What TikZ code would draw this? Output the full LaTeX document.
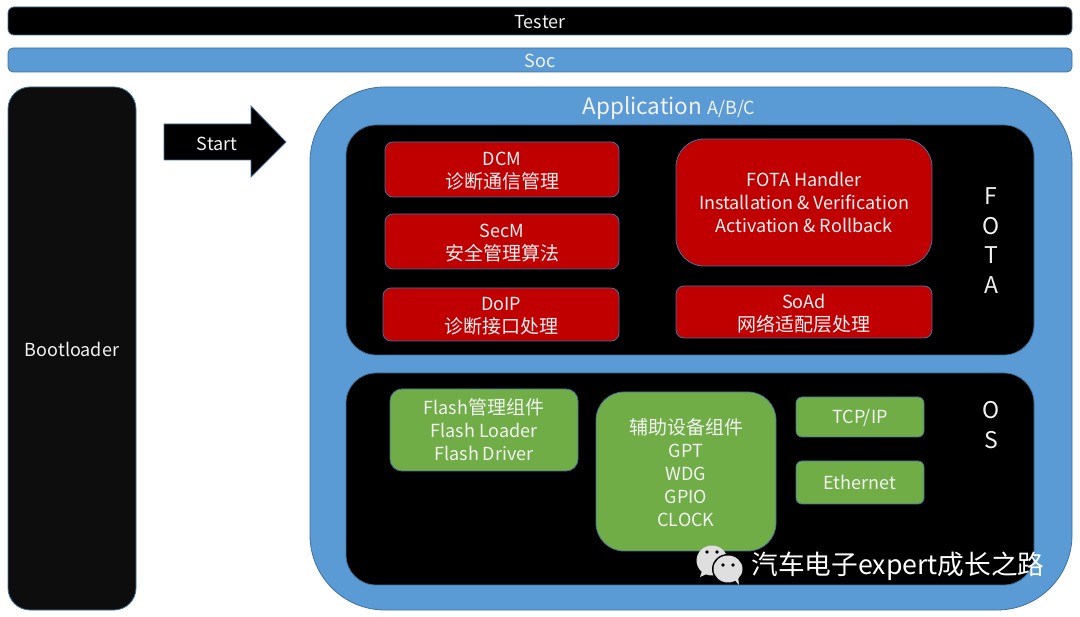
\documentclass[tikz,border=0pt]{standalone}
\usepackage{fontspec}
\setmainfont{Noto Sans CJK SC}
\usetikzlibrary{calc}
\definecolor{blu}{HTML}{5B9BD5}
\definecolor{edg}{HTML}{41719C}
\definecolor{redb}{HTML}{C00000}
\definecolor{grn}{HTML}{70AD47}
\definecolor{txt}{HTML}{F2F2F2}
\definecolor{nearblack}{HTML}{0D0D0D}
\newcommand{\zh}[1]{{\fontsize{19}{23}\selectfont #1}}
\tikzset{
  boxbase/.style={draw=edg,line width=0.8pt,inner sep=0pt},
  blk/.style={boxbase,fill=black},
  nearblk/.style={boxbase,fill=nearblack},
  bluebox/.style={boxbase,fill=blu},
  redbox/.style={boxbase,fill=redb},
  grnbox/.style={boxbase,fill=grn},
  lbl/.style={text=txt,inner sep=0pt,align=center,font=\fontsize{18}{23}\selectfont},
  side/.style={text=txt,inner sep=0pt,font=\fontsize{23}{23}\selectfont},
}
% name, x0, y0, x1, y1, radius, style, text, text shift
\newcommand{\pbox}[9]{%
  \pgfmathsetmacro{\pw}{#4-#2}\pgfmathsetmacro{\ph}{#5-#3}%
  \pgfmathsetmacro{\pcx}{(#2+#4)/2}\pgfmathsetmacro{\pcy}{(#3+#5)/2}%
  \pgfmathsetmacro{\pty}{\pcy+#9}%
  \node[#7,rounded corners=#6pt,minimum width=\pw pt,minimum height=\ph pt] (#1) at (\pcx,\pcy) {};%
  \node[lbl] (#1-text) at (\pcx,\pty) {#8};}
\begin{document}
\begin{tikzpicture}[x=1pt,y=-1pt]
\useasboundingbox (0,0) rectangle (1080,617);
\pbox{tester}{8}{7}{1072}{35}{6}{blk}{Tester}{1}
\pbox{soc}{8}{48}{1072}{72}{5}{bluebox}{Soc}{1}
\pbox{boot}{8}{87}{136}{610}{22}{nearblk}{Bootloader}{1}
\path[draw=edg,line width=0.8pt,fill=black] (164,124) -- (251,124) -- (251,106) -- (286,142) -- (251,177) -- (251,160) -- (164,160) -- cycle;
\node[lbl] (start) at (217,144) {Start};
\pbox{app}{310}{87}{1072}{610}{75}{bluebox}{}{0}
\node[text=txt,inner sep=0pt] (apptitle) at (669,108) {\fontsize{22.5}{24}\selectfont Application \fontsize{18}{18}\selectfont A/B/C};
\pbox{fota}{346}{125}{1034}{355}{30}{blk}{}{0}
\pbox{os}{346}{373}{1034}{585}{30}{blk}{}{0}
\pbox{dcm}{385}{142}{619}{197}{8}{redbox}{DCM\\\zh{诊断通信管理}}{2}
\pbox{secm}{385}{214}{619}{269}{8}{redbox}{SecM\\\zh{安全管理算法}}{2}
\pbox{doip}{383}{288}{619}{341}{8}{redbox}{DoIP\\\zh{诊断接口处理}}{2}
\pbox{handler}{676}{139}{932}{266}{28}{redbox}{FOTA Handler\\Installation \& Verification\\Activation \& Rollback}{-0.5}
\pbox{soad}{676}{286}{932}{338}{8}{redbox}{SoAd\\\zh{网络适配层处理}}{1.5}
\pbox{flash}{390}{389}{578}{471}{12}{grnbox}{Flash\zh{管理组件}\\Flash Loader\\Flash Driver}{0}
\pbox{aux}{596}{392}{776}{551}{28}{grnbox}{\zh{辅助设备组件}\\GPT\\WDG\\GPIO\\CLOCK}{1}
\pbox{tcp}{796}{397}{924}{437}{6}{grnbox}{TCP/IP}{1}
\pbox{eth}{796}{461}{924}{504}{6}{grnbox}{Ethernet}{0}
\node[side] (f1) at (991,196) {F};
\node[side] (f2) at (991,226) {O};
\node[side] (f3) at (991,255) {T};
\node[side] (f4) at (991,285) {A};
\node[side] (o1) at (991,410) {O};
\node[side] (o2) at (991,440) {S};
% watermark icon
\fill[gray!25] (712,560.5) ellipse (15.5 and 15);
\fill[gray!25] (702,571) -- (700,577) -- (709,573) -- cycle;
\fill[black] (728,569) ellipse (16 and 15);
\fill[gray!25] (728,569) ellipse (14.5 and 13.5);
\fill[gray!25] (733,578) -- (739,585) -- (738,576) -- cycle;
\fill[black] (707,552) circle (1.8) (717,552) circle (1.8) (723,565) circle (1.8) (733,565) circle (1.8);
\node[inner sep=0pt,text=white] (wm) at (898,566) {\fontsize{26.7}{26.7}\selectfont 汽车电子expert成长之路};
\end{tikzpicture}
\end{document}
